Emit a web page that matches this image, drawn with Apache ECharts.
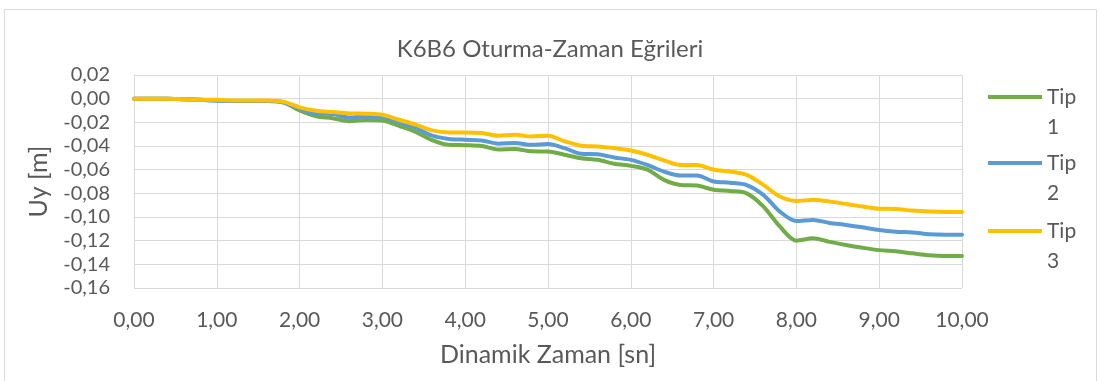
<!DOCTYPE html>
<html>
<head>
<meta charset="utf-8">
<style>
  html, body { margin: 0; padding: 0; background: #fff; }
  #chart { width: 1100px; height: 381px; }
</style>
<script src="https://cdn.jsdelivr.net/npm/echarts@6/dist/echarts.min.js"></script>
</head>
<body>
<div id="chart"></div>
<script>
// Time steps [sn]
const time = [0,0.2,0.4,0.6,0.8,1.0,1.2,1.4,1.6,1.8,2.0,2.2,2.4,2.6,2.8,3.0,3.2,3.4,3.6,3.8,4.0,4.2,4.4,4.6,4.8,5.0,5.2,5.4,5.6,5.8,6.0,6.2,6.4,6.6,6.8,7.0,7.2,7.4,7.6,7.8,8.0,8.2,8.4,8.6,8.8,9.0,9.2,9.4,9.6,9.8,10.0];

// Vertical settlement Uy [m] per type
const tip1 = [0,0,0,-0.0005,-0.001,-0.0015,-0.002,-0.002,-0.002,-0.003,-0.010,-0.015,-0.0165,-0.019,-0.018,-0.0185,-0.023,-0.028,-0.035,-0.039,-0.0393,-0.040,-0.043,-0.0425,-0.0445,-0.0446,-0.0474,-0.0503,-0.0517,-0.055,-0.0568,-0.060,-0.0686,-0.0729,-0.0734,-0.077,-0.078,-0.080,-0.091,-0.108,-0.120,-0.118,-0.121,-0.1236,-0.126,-0.128,-0.129,-0.1307,-0.1324,-0.133,-0.133];
const tip2 = [0,0,0,-0.0005,-0.001,-0.0015,-0.002,-0.002,-0.002,-0.003,-0.0085,-0.0127,-0.013,-0.016,-0.015,-0.0155,-0.020,-0.0248,-0.0313,-0.034,-0.0347,-0.0353,-0.038,-0.0375,-0.039,-0.0384,-0.0418,-0.0466,-0.047,-0.0497,-0.0517,-0.056,-0.0616,-0.065,-0.065,-0.070,-0.071,-0.073,-0.0813,-0.0954,-0.1034,-0.1025,-0.105,-0.1067,-0.1087,-0.111,-0.1124,-0.113,-0.1146,-0.115,-0.115];
const tip3 = [0,0,0,-0.0005,-0.001,-0.001,-0.0015,-0.0015,-0.0015,-0.0025,-0.0073,-0.0102,-0.0113,-0.0125,-0.0127,-0.0136,-0.0178,-0.022,-0.0268,-0.0285,-0.0285,-0.029,-0.0313,-0.0305,-0.032,-0.0313,-0.036,-0.0398,-0.0404,-0.0418,-0.0438,-0.0474,-0.0522,-0.056,-0.056,-0.060,-0.0616,-0.0644,-0.0729,-0.0827,-0.0864,-0.0855,-0.087,-0.089,-0.0912,-0.093,-0.0932,-0.0946,-0.0954,-0.0957,-0.0957];

const seriesNames = ['Tip 1', 'Tip 2', 'Tip 3'];
const seriesColors = ['#70AD47', '#5B9BD5', '#FFC000'];
const seriesValues = [tip1, tip2, tip3];

const FONT = 'Lato, "Open Sans", sans-serif';
const TEXT = '#595959';
const GRID = '#D9D9D9';

const fmt = v => v.toFixed(2).replace('.', ',').replace('-0,00', '0,00');

const chart = echarts.init(document.getElementById('chart'), null, { renderer: 'canvas' });

// One legend block per series, stacked down the right side.
// The name wraps onto two lines; a blank leading line keeps the
// swatch level with the first line of the wrapped name.
const legendTops = [52, 118, 186];
const legends = seriesNames.map((name, i) => ({
  data: [name],
  orient: 'vertical',
  left: 988,
  top: legendTops[i],
  padding: 0,
  icon: 'rect',
  itemWidth: 54,
  itemHeight: 4,
  formatter: n => '\u00a0\n' + n.replace(' ', '\n'),
  textStyle: { color: TEXT, fontFamily: FONT, fontSize: 21, lineHeight: 30 }
}));

chart.setOption({
  animation: false,
  backgroundColor: '#fff',
  graphic: [{
    type: 'rect',
    shape: { x: 4.5, y: 9.5, width: 1092, height: 380 },
    style: { fill: 'none', stroke: GRID, lineWidth: 1 },
    silent: true
  }],
  title: {
    text: 'K6B6 Oturma-Zaman Eğrileri',
    left: 'center',
    top: 32,
    textStyle: { color: TEXT, fontFamily: FONT, fontSize: 24, fontWeight: 'normal' }
  },
  legend: legends,
  grid: { left: 134, right: 138, top: 75, bottom: 93, containLabel: false },
  xAxis: {
    type: 'value',
    min: 0, max: 10, interval: 1,
    name: 'Dinamik Zaman [sn]',
    nameLocation: 'middle',
    nameGap: 54,
    nameTextStyle: { color: TEXT, fontFamily: FONT, fontSize: 25 },
    axisLine: { show: true, lineStyle: { color: GRID } },
    axisTick: { show: false },
    axisLabel: { color: TEXT, fontFamily: FONT, fontSize: 21, margin: 22, formatter: fmt },
    splitLine: { show: true, lineStyle: { color: GRID, width: 1 } }
  },
  yAxis: {
    type: 'value',
    min: -0.16, max: 0.02, interval: 0.02,
    name: 'Uy [m]',
    nameLocation: 'middle',
    nameGap: 83,
    nameTextStyle: { color: TEXT, fontFamily: FONT, fontSize: 25 },
    axisLine: { show: true, lineStyle: { color: GRID } },
    axisTick: { show: false },
    axisLabel: { color: TEXT, fontFamily: FONT, fontSize: 20, margin: 24, formatter: fmt },
    splitLine: { show: true, lineStyle: { color: GRID, width: 1 } }
  },
  series: seriesNames.map((name, i) => ({
    name: name,
    type: 'line',
    data: time.map((t, k) => [t, seriesValues[i][k]]),
    smooth: 0.3,
    showSymbol: false,
    symbol: 'none',
    color: seriesColors[i],
    lineStyle: { color: seriesColors[i], width: 4, cap: 'round', join: 'round' }
  }))
});
</script>
</body>
</html>
